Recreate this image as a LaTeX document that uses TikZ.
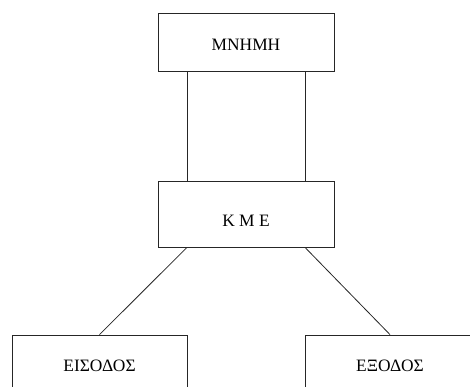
\documentclass[tikz,border=0pt]{standalone}
\usepackage{fontspec}
\setmainfont{Liberation Serif}
\usepackage{tikz}
\usetikzlibrary{shapes}
\tikzstyle{block}=[draw=black!85,line width=0.8pt,rectangle,inner sep=0pt,font=\fontsize{17.4}{20}\selectfont]
\tikzstyle{link}=[draw=black!85,line width=0.8pt]

\begin{document}
\begin{tikzpicture}[x=1pt,y=-1pt]
    \useasboundingbox (0,0) rectangle (470,387);
    \clip (0,0) rectangle (470,387);
    \node[block,minimum width=176pt,minimum height=58pt,text height=18pt] (mem) at (246,42) {MNHMH};
    \node[block,minimum width=176pt,minimum height=66pt,text height=24pt] (cpu) at (246,214) {K M E};
    \node[block,minimum width=175pt,minimum height=62pt] (in) at (99.5,366) {ΕΙΣΟΔΟΣ};
    \node[block,minimum width=170pt,minimum height=62pt] (out) at (390,366) {ΕΞΟΔΟΣ};
    \foreach \dx in {-59,59}
        \path[link] ([xshift=\dx pt]mem.south) -- ([xshift=\dx pt]cpu.north);
    \foreach \dx/\dest in {-59/in,59/out}
        \path[link] ([xshift=\dx pt]cpu.south) -- (\dest.north);
\end{tikzpicture}
\end{document}
